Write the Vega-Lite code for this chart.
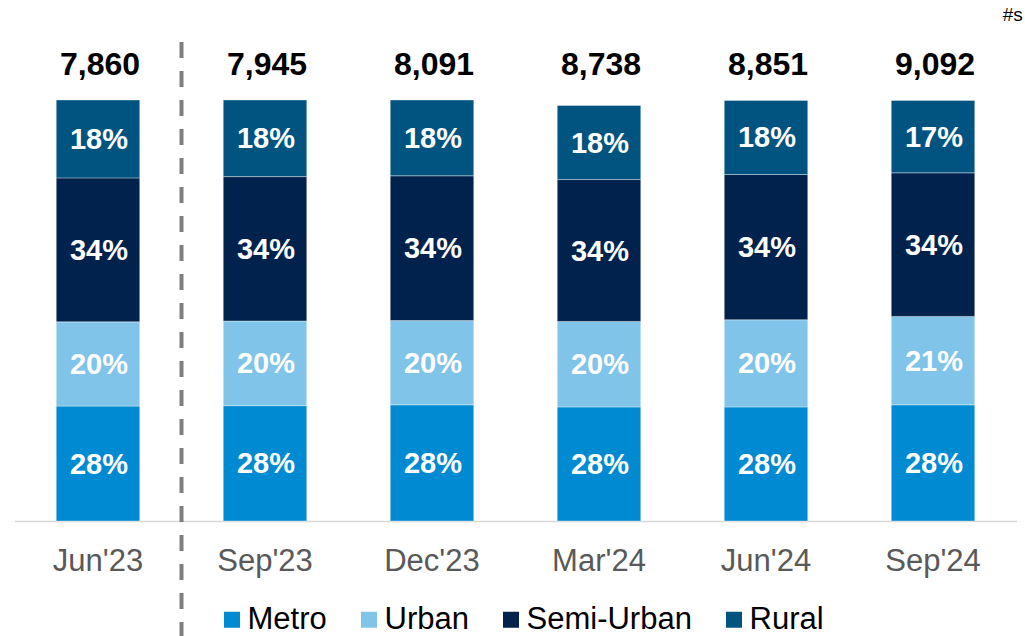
{
  "$schema": "https://vega.github.io/schema/vega-lite/v6.json",
  "width": 1002,
  "height": 521,
  "autosize": {"type": "none"},
  "padding": {"left": 14.5, "top": 0, "right": 8.5, "bottom": 115},
  "background": "white",
  "config": {"view": {"stroke": null}, "font": "Liberation Sans"},
  "datasets": {
    "shares": [
      {"period": "Jun'23", "segment": "Metro", "k": 1, "value": 27.3, "label": "28%"},
      {"period": "Jun'23", "segment": "Urban", "k": 2, "value": 20.0, "label": "20%"},
      {"period": "Jun'23", "segment": "Semi-Urban", "k": 3, "value": 34.2, "label": "34%"},
      {"period": "Jun'23", "segment": "Rural", "k": 4, "value": 18.5, "label": "18%"},
      {"period": "Sep'23", "segment": "Metro", "k": 1, "value": 27.4, "label": "28%"},
      {"period": "Sep'23", "segment": "Urban", "k": 2, "value": 20.1, "label": "20%"},
      {"period": "Sep'23", "segment": "Semi-Urban", "k": 3, "value": 34.3, "label": "34%"},
      {"period": "Sep'23", "segment": "Rural", "k": 4, "value": 18.2, "label": "18%"},
      {"period": "Dec'23", "segment": "Metro", "k": 1, "value": 27.6, "label": "28%"},
      {"period": "Dec'23", "segment": "Urban", "k": 2, "value": 20.0, "label": "20%"},
      {"period": "Dec'23", "segment": "Semi-Urban", "k": 3, "value": 34.4, "label": "34%"},
      {"period": "Dec'23", "segment": "Rural", "k": 4, "value": 18.0, "label": "18%"},
      {"period": "Mar'24", "segment": "Metro", "k": 1, "value": 27.1, "label": "28%"},
      {"period": "Mar'24", "segment": "Urban", "k": 2, "value": 20.3, "label": "20%"},
      {"period": "Mar'24", "segment": "Semi-Urban", "k": 3, "value": 33.7, "label": "34%"},
      {"period": "Mar'24", "segment": "Rural", "k": 4, "value": 17.6, "label": "18%"},
      {"period": "Jun'24", "segment": "Metro", "k": 1, "value": 27.1, "label": "28%"},
      {"period": "Jun'24", "segment": "Urban", "k": 2, "value": 20.7, "label": "20%"},
      {"period": "Jun'24", "segment": "Semi-Urban", "k": 3, "value": 34.5, "label": "34%"},
      {"period": "Jun'24", "segment": "Rural", "k": 4, "value": 17.6, "label": "18%"},
      {"period": "Sep'24", "segment": "Metro", "k": 1, "value": 27.6, "label": "28%"},
      {"period": "Sep'24", "segment": "Urban", "k": 2, "value": 21.0, "label": "21%"},
      {"period": "Sep'24", "segment": "Semi-Urban", "k": 3, "value": 34.1, "label": "34%"},
      {"period": "Sep'24", "segment": "Rural", "k": 4, "value": 17.2, "label": "17%"}
    ],
    "totals": [
      {"period": "Jun'23", "total": 7860},
      {"period": "Sep'23", "total": 7945},
      {"period": "Dec'23", "total": 8091},
      {"period": "Mar'24", "total": 8738},
      {"period": "Jun'24", "total": 8851},
      {"period": "Sep'24", "total": 9092}
    ]
  },
  "layer": [
    {
      "data": {"name": "shares"},
      "transform": [
        {"stack": "value", "groupby": ["period"], "sort": [{"field": "k", "order": "ascending"}], "as": ["v0", "v1"]}
      ],
      "layer": [
        {
          "mark": {"type": "bar", "stroke": "#ffffff", "strokeWidth": 0.6, "strokeOpacity": 0.6},
          "encoding": {
            "x": {
              "field": "period", "type": "nominal", "sort": null,
              "scale": {"type": "band", "domain": ["Jun'23", "Sep'23", "Dec'23", "Mar'24", "Jun'24", "Sep'24"], "paddingInner": 0.5, "paddingOuter": 0.25},
              "axis": {
                "title": null, "labelAngle": 0, "ticks": false, "tickSize": 0,
                "labelFontSize": 31, "labelColor": "#595959", "labelFont": "Liberation Sans",
                "labelBaseline": "alphabetic", "labelPadding": 49,
                "domainColor": "#D9D9D9", "domainWidth": 1.5, "grid": false
              }
            },
            "y": {"field": "v0", "type": "quantitative", "scale": {"domain": [0, 123.75], "nice": false, "zero": true}, "axis": null},
            "y2": {"field": "v1"},
            "color": {
              "field": "segment", "type": "nominal",
              "scale": {"domain": ["Metro", "Urban", "Semi-Urban", "Rural"], "range": ["#008AD2", "#80C4E9", "#00224D", "#00547F"]},
              "legend": {
                "orient": "none", "legendX": 202, "legendY": 604, "direction": "horizontal", "title": null,
                "symbolType": "square", "symbolSize": 256, "symbolStrokeWidth": 0, "symbolOpacity": 1,
                "labelFontSize": 31, "labelFont": "Liberation Sans", "labelColor": "#000000", "labelLimit": 400,
                "labelOffset": 0, "columnPadding": 26, "padding": 0, "offset": 0
              }
            }
          }
        },
        {
          "transform": [
            {"fold": ["v0", "v1"], "as": ["edge", "pos"]},
            {"aggregate": [{"op": "mean", "field": "pos", "as": "mid"}], "groupby": ["period", "segment", "label"]}
          ],
          "mark": {"type": "text", "color": "#ffffff", "fontSize": 29, "fontWeight": "bold", "baseline": "middle", "align": "center", "dy": 1, "dx": 1},
          "encoding": {
            "x": {"field": "period", "type": "nominal", "sort": null},
            "y": {"field": "mid", "type": "quantitative"},
            "text": {"field": "label", "type": "nominal"}
          }
        }
      ]
    },
    {
      "data": {"name": "totals"},
      "mark": {"type": "text", "color": "#000000", "fontSize": 32, "fontWeight": "bold", "baseline": "alphabetic", "align": "center", "dx": 2},
      "encoding": {
        "x": {"field": "period", "type": "nominal", "sort": null},
        "y": {"datum": 105.94, "type": "quantitative"},
        "text": {"field": "total", "type": "quantitative", "format": ",d"}
      }
    },
    {
      "data": {"values": [{}]},
      "mark": {"type": "rule", "color": "#7F7F7F", "strokeWidth": 4, "strokeDash": [16, 13]},
      "encoding": {
        "x": {"datum": "Jun'23", "type": "nominal", "bandPosition": 1.5},
        "y": {"datum": 113.8, "type": "quantitative"},
        "y2": {"datum": -27.4}
      }
    },
    {
      "data": {"values": [{}]},
      "mark": {"type": "text", "text": "#s", "color": "#000000", "fontSize": 19, "align": "right", "baseline": "alphabetic"},
      "encoding": {
        "x": {"datum": "Sep'24", "type": "nominal", "bandPosition": 1.575},
        "y": {"datum": 118.76, "type": "quantitative"}
      }
    }
  ]
}
